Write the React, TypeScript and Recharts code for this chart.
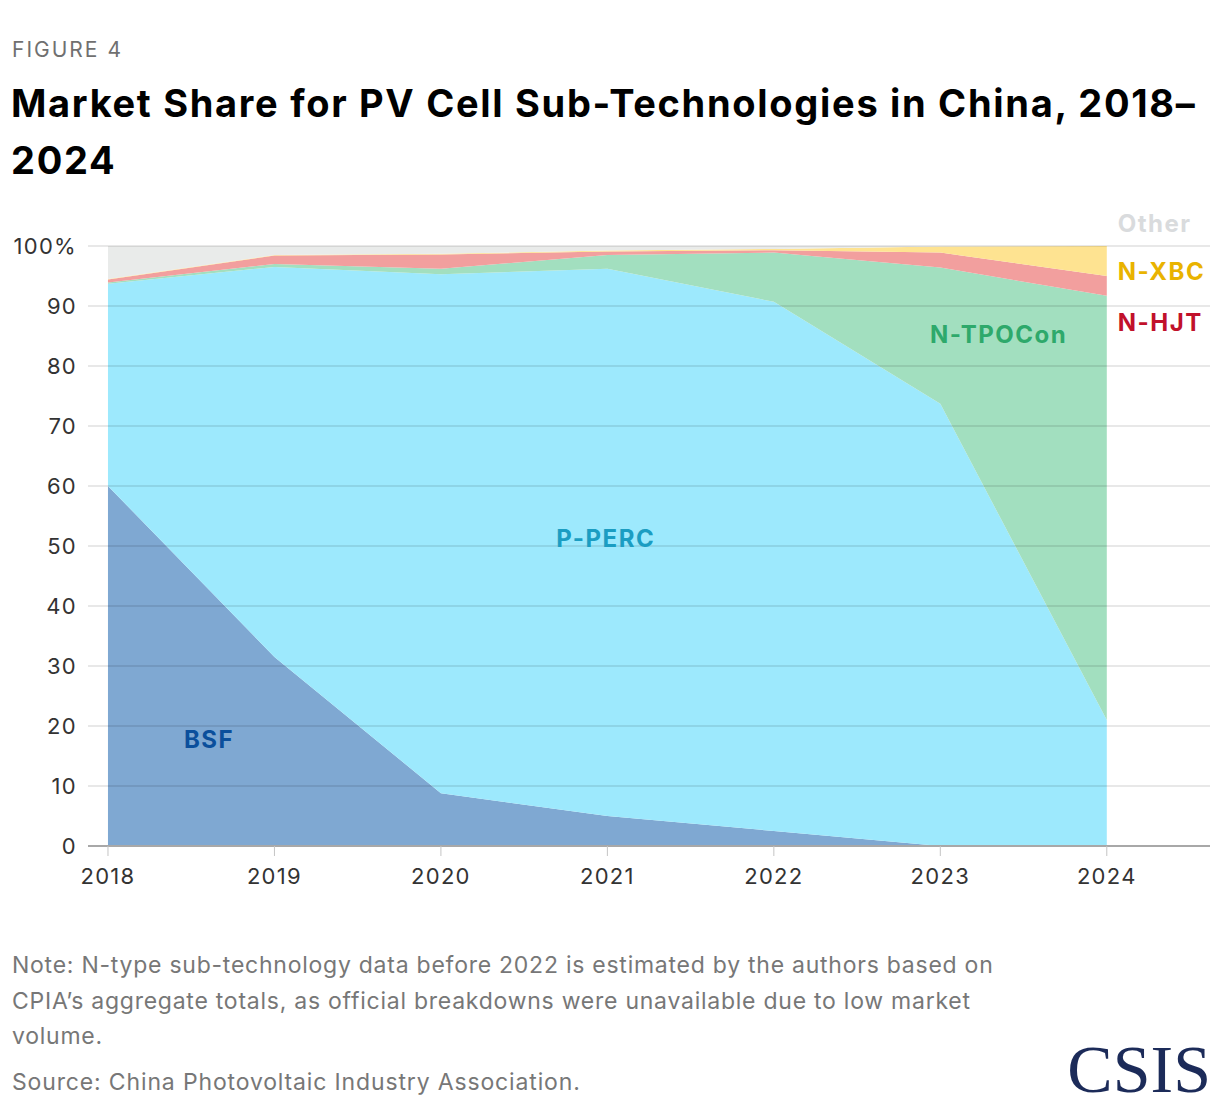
import { AreaChart, Area, XAxis, YAxis, ReferenceLine, ReferenceDot } from 'recharts';

const years = [2018, 2019, 2020, 2021, 2022, 2023, 2024];
const bsf = [60, 31.5, 8.8, 5, 2.5, 0, 0];
const pPerc = [33.7, 65, 86.5, 91.2, 88.2, 73.7, 21];
const nTopcon = [0.2, 0.5, 0.9, 2.3, 8.2, 22.7, 70.7];
const nHjt = [0.5, 1.4, 2.4, 0.6, 0.4, 2.5, 3.3];
const nXbc = [0.1, 0.1, 0.1, 0.15, 0.2, 1.0, 5.0];
const other = [5.5, 1.5, 1.3, 0.75, 0.5, 0.1, 0];
const yTicks = [0, 10, 20, 30, 40, 50, 60, 70, 80, 90, 100];

const data = years.map((year, i) => ({
    year,
    bsf: bsf[i],
    pPerc: pPerc[i],
    nTopcon: nTopcon[i],
    nHjt: nHjt[i],
    nXbc: nXbc[i],
    other: other[i],
}));

const FONT = 'Inter, Roboto, "Noto Sans", sans-serif';

const series = [
    { key: 'bsf', fill: '#7fa8d2' },
    { key: 'pPerc', fill: '#9de9fd' },
    { key: 'nTopcon', fill: '#a2dfbf' },
    { key: 'nHjt', fill: '#f29f9e' },
    { key: 'nXbc', fill: '#fee391' },
    { key: 'other', fill: '#e9ebea' },
];

const labelStyle = { fontFamily: FONT, fontSize: 24, fontWeight: 700, letterSpacing: 1.5 };
const tickStyle = { fill: '#333', fontSize: 22, fontFamily: FONT, letterSpacing: 1.3 };

const App = () => {
    return (
        <div style={{ position: 'relative', width: 1220, height: 1108, background: '#fff', fontFamily: FONT, overflow: 'hidden' }}>
            <style>{'body{margin:0}'}</style>
            <div style={{ position: 'absolute', left: 12, top: 36, fontSize: 21, lineHeight: '28px', color: '#707070', letterSpacing: 2 }}>
                FIGURE 4
            </div>
            <div style={{ position: 'absolute', left: 11, top: 75, fontSize: 38, lineHeight: '57px', fontWeight: 700, color: '#000', letterSpacing: 1.7, whiteSpace: 'nowrap' }}>
                <div>Market Share for PV Cell Sub-Technologies in China, 2018–</div>
                <div>2024</div>
            </div>

            <div style={{ position: 'absolute', left: 0, top: 200 }}>
                <AreaChart
                    width={1220}
                    height={700}
                    data={data}
                    margin={{ top: 46, right: 10, left: 0, bottom: 14 }}
                >
                    <XAxis
                        dataKey="year"
                        type="number"
                        domain={[2017.88, 2024.62]}
                        ticks={years}
                        axisLine={{ stroke: '#a8a8a8', strokeWidth: 2 }}
                        tickLine={{ stroke: '#c4c4c4' }}
                        tickSize={10}
                        tickMargin={12}
                        height={40}
                        tick={tickStyle}
                    />
                    <YAxis
                        type="number"
                        domain={[0, 100]}
                        ticks={yTicks}
                        width={88}
                        axisLine={false}
                        tickLine={false}
                        tickSize={0}
                        tickMargin={11}
                        tickFormatter={(v) => (v === 100 ? '100%' : String(v))}
                        tick={tickStyle}
                    />
                    {series.map((s) => (
                        <Area
                            key={s.key}
                            dataKey={s.key}
                            stackId="1"
                            type="linear"
                            stroke="none"
                            fill={s.fill}
                            fillOpacity={1}
                            isAnimationActive={false}
                        />
                    ))}
                    {yTicks.filter((t) => t > 0).map((t) => (
                        <ReferenceLine key={t} y={t} stroke="#000" strokeOpacity={0.09} strokeWidth={2} />
                    ))}
                    <ReferenceDot x={2018.607} y={17.83} r={0} ifOverflow="visible"
                        label={{ value: 'BSF', position: 'center', fill: '#0b4f9c', ...labelStyle }} />
                    <ReferenceDot x={2020.99} y={51.2} r={0} ifOverflow="visible"
                        label={{ value: 'P-PERC', position: 'center', fill: '#1b9dc2', ...labelStyle }} />
                    <ReferenceDot x={2023.35} y={85.2} r={0} ifOverflow="visible"
                        label={{ value: 'N-TPOCon', position: 'center', fill: '#2ea96b', ...labelStyle }} />
                    <ReferenceDot x={2024} y={103.8} r={0} ifOverflow="visible"
                        label={{ value: 'Other', position: 'right', offset: 11, fill: '#d9dbdd', ...labelStyle }} />
                    <ReferenceDot x={2024} y={95.7} r={0} ifOverflow="visible"
                        label={{ value: 'N-XBC', position: 'right', offset: 11, fill: '#e9b300', ...labelStyle }} />
                    <ReferenceDot x={2024} y={87.3} r={0} ifOverflow="visible"
                        label={{ value: 'N-HJT', position: 'right', offset: 11, fill: '#c1112b', ...labelStyle }} />
                </AreaChart>
            </div>

            <div style={{ position: 'absolute', left: 12, top: 948, width: 1100, fontSize: 23, lineHeight: '35.5px', color: '#777', letterSpacing: 0.75, whiteSpace: 'nowrap' }}>
                Note: N-type sub-technology data before 2022 is estimated by the authors based on<br />
                CPIA’s aggregate totals, as official breakdowns were unavailable due to low market<br />
                volume.
            </div>
            <div style={{ position: 'absolute', left: 12, top: 1065, fontSize: 23, lineHeight: '35.5px', color: '#777', letterSpacing: 0.85 }}>
                Source: China Photovoltaic Industry Association.
            </div>
            <div style={{ position: 'absolute', right: 9, top: 1031, fontSize: 68, lineHeight: '76px', color: '#1c2b59', fontFamily: '"Liberation Serif", "DejaVu Serif", serif' }}>
                CSIS
            </div>
        </div>
    );
};

export default App;
